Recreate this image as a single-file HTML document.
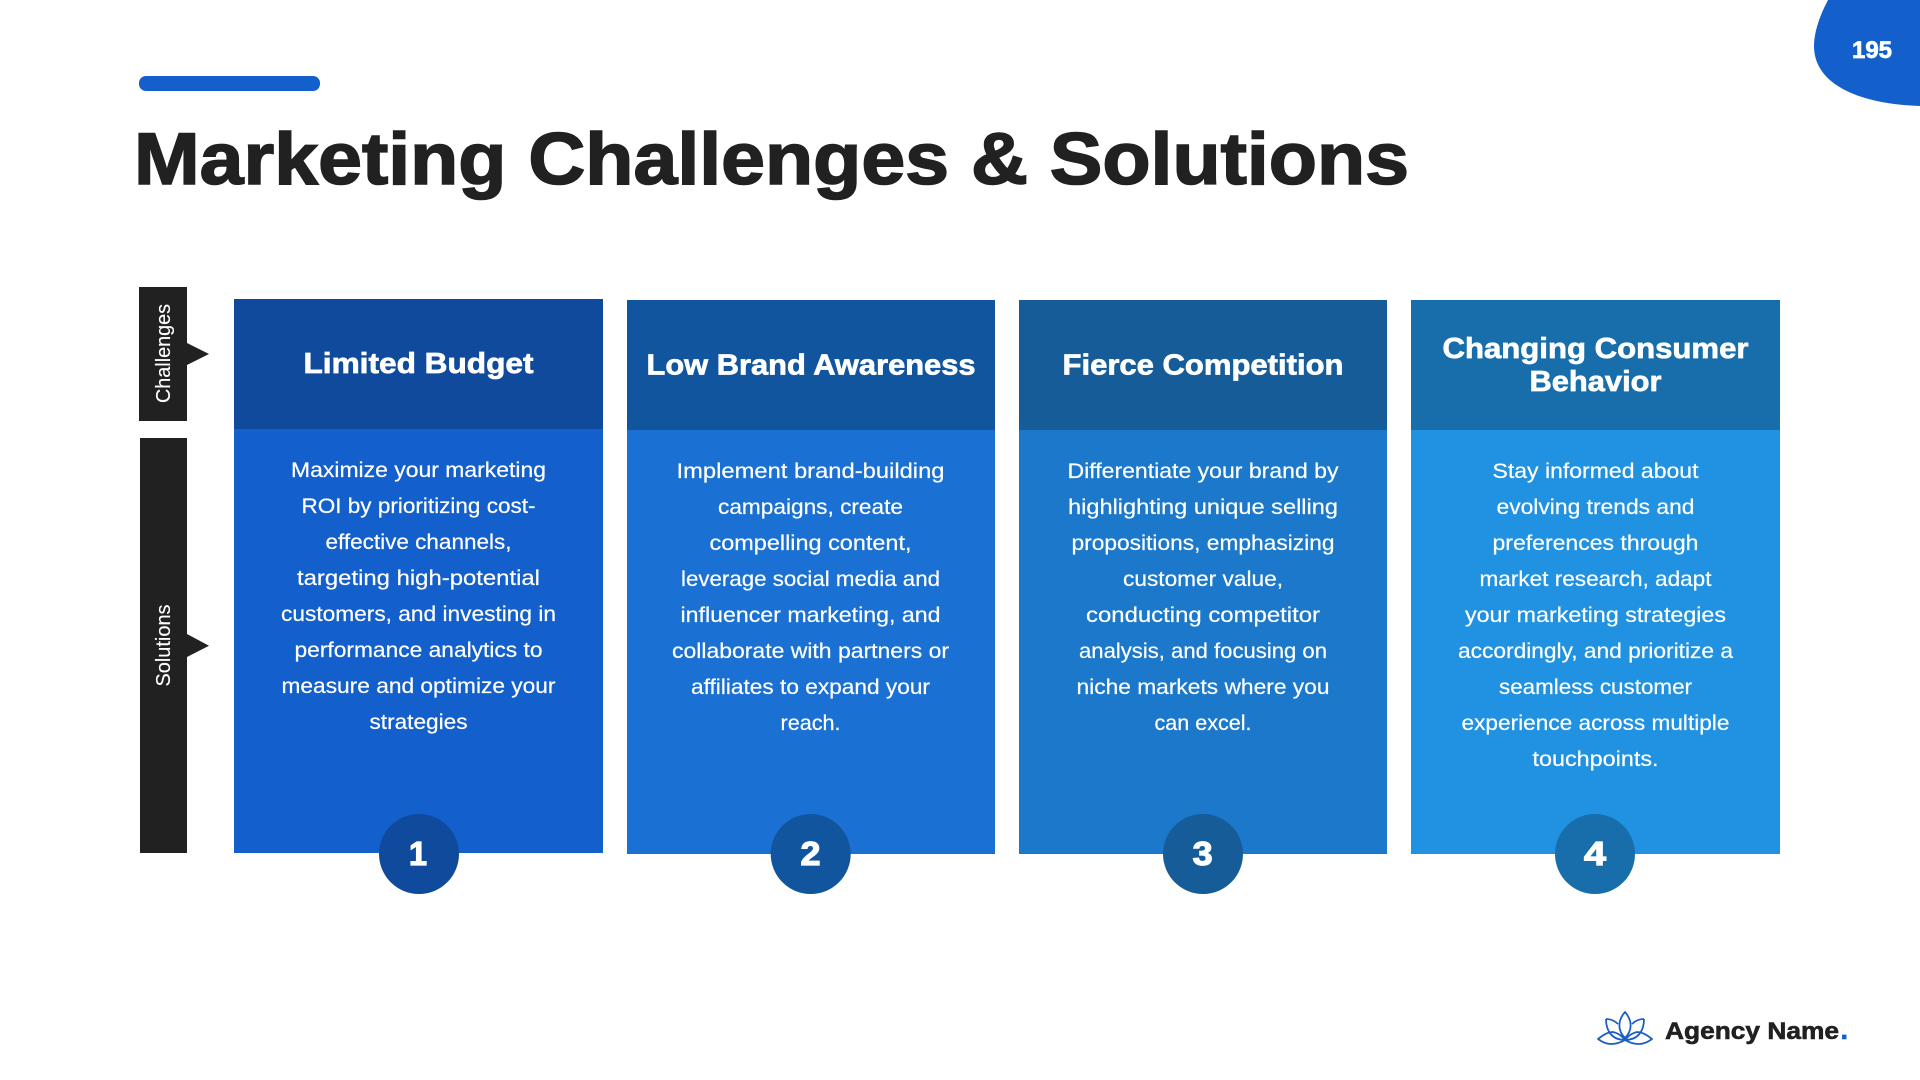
<!DOCTYPE html>
<html lang="en">
<head>
<meta charset="utf-8">
<title>Marketing Challenges &amp; Solutions</title>
<style>
html,body{margin:0;padding:0;background:#fff;width:1920px;height:1080px;overflow:hidden}
svg{display:block}
text{font-family:"Liberation Sans",Arial,sans-serif}
.b{font-size:21px;fill:#fff;text-anchor:middle;stroke:#fff;stroke-width:.2px}
.h{font-size:29px;font-weight:700;fill:#fff;text-anchor:middle;stroke:#fff;stroke-width:.7px}
.n{font-size:33px;font-weight:700;fill:#fff;text-anchor:middle;stroke:#fff;stroke-width:1.2px}
.v{font-size:20.5px;fill:#fff;text-anchor:middle;stroke:#fff;stroke-width:.15px}
</style>
</head>
<body>
<svg width="1920" height="1080" viewBox="0 0 1920 1080" xmlns="http://www.w3.org/2000/svg">
<rect width="1920" height="1080" fill="#fff"/>
<rect x="139" y="76" width="181" height="15" rx="7" fill="#1360CD"/>
<text x="134" y="184" font-size="73" font-weight="700" fill="#212121" stroke="#212121" stroke-width="1.6" textLength="1275" lengthAdjust="spacingAndGlyphs">Marketing Challenges &amp; Solutions</text>

<path d="M1828 0C1820 15 1814 32 1814 46C1814 85 1860 104 1920 106L1920 0Z" fill="#1360CD"/>
<text x="1872" y="58" font-size="24" font-weight="700" fill="#fff" stroke="#fff" stroke-width=".7" text-anchor="middle" textLength="40" lengthAdjust="spacingAndGlyphs">195</text>

<!-- side labels -->
<rect x="139" y="287" width="48" height="134" fill="#212121"/>
<path d="M187 343L209 354L187 365Z" fill="#212121"/>
<text class="v" x="170" y="353.5" transform="rotate(-90 170 353.5)" textLength="99" lengthAdjust="spacingAndGlyphs">Challenges</text>
<rect x="140" y="438" width="47" height="415" fill="#212121"/>
<path d="M187 634L209 645.7L187 657Z" fill="#212121"/>
<text class="v" x="170" y="645.5" transform="rotate(-90 170 645.5)" textLength="82" lengthAdjust="spacingAndGlyphs">Solutions</text>

<!-- card 1 -->
<rect x="234" y="299" width="369" height="554" fill="#1360CD"/>
<rect x="234" y="299" width="369" height="130" fill="#0F4A9C"/>
<text class="h" x="418.5" y="373" textLength="230" lengthAdjust="spacingAndGlyphs">Limited Budget</text>
<text class="b" x="418.5" y="477" textLength="255" lengthAdjust="spacingAndGlyphs">Maximize your marketing</text>
<text class="b" x="418.5" y="513" textLength="234" lengthAdjust="spacingAndGlyphs">ROI by prioritizing cost-</text>
<text class="b" x="418.5" y="549" textLength="186" lengthAdjust="spacingAndGlyphs">effective channels,</text>
<text class="b" x="418.5" y="585" textLength="243" lengthAdjust="spacingAndGlyphs">targeting high-potential</text>
<text class="b" x="418.5" y="621" textLength="275" lengthAdjust="spacingAndGlyphs">customers, and investing in</text>
<text class="b" x="418.5" y="657" textLength="248" lengthAdjust="spacingAndGlyphs">performance analytics to</text>
<text class="b" x="418.5" y="693" textLength="274" lengthAdjust="spacingAndGlyphs">measure and optimize your</text>
<text class="b" x="418.5" y="729" textLength="98" lengthAdjust="spacingAndGlyphs">strategies</text>
<circle cx="419" cy="854" r="40" fill="#0F4A9C"/>
<text class="n" x="418" y="865" textLength="18" lengthAdjust="spacingAndGlyphs">1</text>

<!-- card 2 -->
<rect x="627" y="300" width="368" height="554" fill="#1A70D3"/>
<rect x="627" y="300" width="368" height="130" fill="#12559F"/>
<text class="h" x="811" y="374.5" textLength="329" lengthAdjust="spacingAndGlyphs">Low Brand Awareness</text>
<text class="b" x="810.5" y="478" textLength="268" lengthAdjust="spacingAndGlyphs">Implement brand-building</text>
<text class="b" x="810.5" y="514" textLength="185" lengthAdjust="spacingAndGlyphs">campaigns, create</text>
<text class="b" x="810.5" y="550" textLength="202" lengthAdjust="spacingAndGlyphs">compelling content,</text>
<text class="b" x="810.5" y="586" textLength="259" lengthAdjust="spacingAndGlyphs">leverage social media and</text>
<text class="b" x="810.5" y="622" textLength="260" lengthAdjust="spacingAndGlyphs">influencer marketing, and</text>
<text class="b" x="810.5" y="658" textLength="277" lengthAdjust="spacingAndGlyphs">collaborate with partners or</text>
<text class="b" x="810.5" y="694" textLength="239" lengthAdjust="spacingAndGlyphs">affiliates to expand your</text>
<text class="b" x="810.5" y="730" textLength="60" lengthAdjust="spacingAndGlyphs">reach.</text>
<circle cx="810.7" cy="854" r="40" fill="#12559F"/>
<text class="n" x="810.5" y="865" textLength="20" lengthAdjust="spacingAndGlyphs">2</text>

<!-- card 3 -->
<rect x="1019" y="300" width="368" height="554" fill="#1B78CB"/>
<rect x="1019" y="300" width="368" height="130" fill="#165C98"/>
<text class="h" x="1203" y="374.5" textLength="281" lengthAdjust="spacingAndGlyphs">Fierce Competition</text>
<text class="b" x="1203" y="478" textLength="271" lengthAdjust="spacingAndGlyphs">Differentiate your brand by</text>
<text class="b" x="1203" y="514" textLength="270" lengthAdjust="spacingAndGlyphs">highlighting unique selling</text>
<text class="b" x="1203" y="550" textLength="263" lengthAdjust="spacingAndGlyphs">propositions, emphasizing</text>
<text class="b" x="1203" y="586" textLength="160" lengthAdjust="spacingAndGlyphs">customer value,</text>
<text class="b" x="1203" y="622" textLength="234" lengthAdjust="spacingAndGlyphs">conducting competitor</text>
<text class="b" x="1203" y="658" textLength="248" lengthAdjust="spacingAndGlyphs">analysis, and focusing on</text>
<text class="b" x="1203" y="694" textLength="253" lengthAdjust="spacingAndGlyphs">niche markets where you</text>
<text class="b" x="1203" y="730" textLength="97" lengthAdjust="spacingAndGlyphs">can excel.</text>
<circle cx="1203" cy="854" r="40" fill="#165C98"/>
<text class="n" x="1202.6" y="865" textLength="20" lengthAdjust="spacingAndGlyphs">3</text>

<!-- card 4 -->
<rect x="1411" y="300" width="369" height="554" fill="#2092E1"/>
<rect x="1411" y="300" width="369" height="130" fill="#186EAA"/>
<text class="h" x="1595.5" y="358" textLength="306" lengthAdjust="spacingAndGlyphs">Changing Consumer</text>
<text class="h" x="1595.5" y="391" textLength="132" lengthAdjust="spacingAndGlyphs">Behavior</text>
<text class="b" x="1595.5" y="478" textLength="206" lengthAdjust="spacingAndGlyphs">Stay informed about</text>
<text class="b" x="1595.5" y="514" textLength="198" lengthAdjust="spacingAndGlyphs">evolving trends and</text>
<text class="b" x="1595.5" y="550" textLength="206" lengthAdjust="spacingAndGlyphs">preferences through</text>
<text class="b" x="1595.5" y="586" textLength="232" lengthAdjust="spacingAndGlyphs">market research, adapt</text>
<text class="b" x="1595.5" y="622" textLength="261" lengthAdjust="spacingAndGlyphs">your marketing strategies</text>
<text class="b" x="1595.5" y="658" textLength="275" lengthAdjust="spacingAndGlyphs">accordingly, and prioritize a</text>
<text class="b" x="1595.5" y="694" textLength="193" lengthAdjust="spacingAndGlyphs">seamless customer</text>
<text class="b" x="1595.5" y="730" textLength="268" lengthAdjust="spacingAndGlyphs">experience across multiple</text>
<text class="b" x="1595.5" y="766" textLength="126" lengthAdjust="spacingAndGlyphs">touchpoints.</text>
<circle cx="1595" cy="854" r="40" fill="#186EAA"/>
<text class="n" x="1595" y="865" textLength="22" lengthAdjust="spacingAndGlyphs">4</text>

<!-- logo -->
<g fill="none" stroke="#1A5FC4" stroke-width="1.8" stroke-linejoin="round">
<path d="M1625 1012C1618 1020 1617 1030 1625 1038C1633 1030 1632 1020 1625 1012Z"/>
<path d="M1606 1019C1606 1031 1612 1040 1625 1040M1606 1019C1611 1019 1615 1021 1618 1024"/>
<path d="M1644 1019C1644 1031 1638 1040 1625 1040M1644 1019C1639 1019 1635 1021 1632 1024"/>
<path d="M1598 1039C1604 1034 1609 1032 1613 1032C1618 1033 1622 1036 1625 1040C1620 1043 1615 1044 1611 1044C1606 1044 1602 1042 1598 1039Z"/>
<path d="M1652 1039C1646 1034 1641 1032 1637 1032C1632 1033 1628 1036 1625 1040C1630 1043 1635 1044 1639 1044C1644 1044 1648 1042 1652 1039Z"/>
</g>
<text x="1665" y="1039" font-size="24.5" font-weight="700" fill="#212121" stroke="#212121" stroke-width=".6" textLength="174" lengthAdjust="spacingAndGlyphs">Agency Name</text>
<text x="1840.5" y="1039" font-size="27" font-weight="700" fill="#1360CD" stroke="#1360CD" stroke-width=".6">.</text>
</svg>
</body>
</html>
